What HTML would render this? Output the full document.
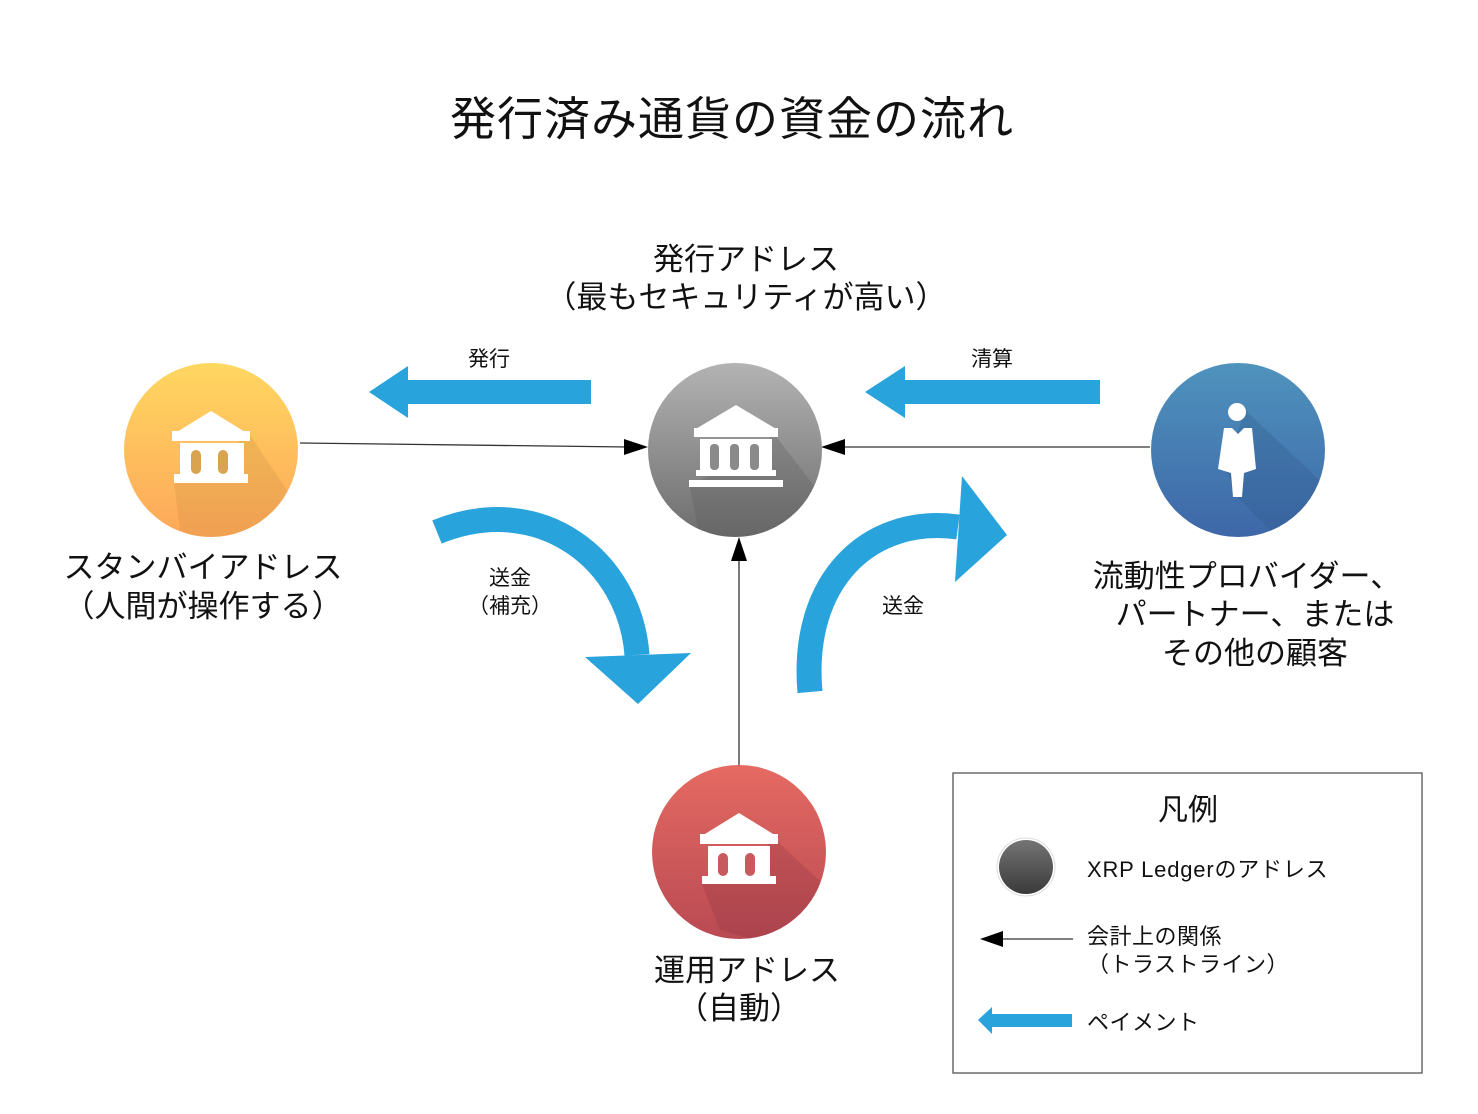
<!DOCTYPE html>
<html><head><meta charset="utf-8"><style>
body{margin:0;background:#fff}
text{font-family:"Liberation Sans","Noto Sans CJK JP",sans-serif;fill:#111}
</style></head><body>
<svg width="1478" height="1109" viewBox="0 0 1478 1109" xmlns="http://www.w3.org/2000/svg">
<defs>
<linearGradient id="gy" x1="0" y1="0" x2="0" y2="1"><stop offset="0" stop-color="#ffd760"/><stop offset="1" stop-color="#fea75a"/></linearGradient>
<linearGradient id="gg" x1="0" y1="0" x2="0" y2="1"><stop offset="0" stop-color="#b3b3b3"/><stop offset="1" stop-color="#6d6d6d"/></linearGradient>
<linearGradient id="gb" x1="0" y1="0" x2="0" y2="1"><stop offset="0" stop-color="#4f93bd"/><stop offset="1" stop-color="#3e67a8"/></linearGradient>
<linearGradient id="gr" x1="0" y1="0" x2="0" y2="1"><stop offset="0" stop-color="#e56a62"/><stop offset="1" stop-color="#b94a53"/></linearGradient>
<linearGradient id="gl" x1="0" y1="0" x2="0" y2="1"><stop offset="0" stop-color="#747474"/><stop offset="1" stop-color="#3a3a3a"/></linearGradient>
<clipPath id="cy"><circle cx="211" cy="450" r="87"/></clipPath>
<clipPath id="cg"><circle cx="735" cy="450" r="87"/></clipPath>
<clipPath id="cb"><circle cx="1238" cy="450" r="87"/></clipPath>
<clipPath id="cr"><circle cx="739" cy="852" r="87"/></clipPath>
</defs>

<text x="732" y="135" font-size="46" text-anchor="middle" letter-spacing="1">発行済み通貨の資金の流れ</text>

<line x1="300" y1="443" x2="628" y2="447" stroke="#333" stroke-width="1.3"/>
<polygon points="648,447 624,439 624,455" fill="#000"/>
<line x1="1150" y1="447" x2="842" y2="447" stroke="#333" stroke-width="1.3"/>
<polygon points="821,447 845,439 845,455" fill="#000"/>
<line x1="739" y1="765" x2="739" y2="558" stroke="#333" stroke-width="1.3"/>
<polygon points="739,537 731,561 747,561" fill="#000"/>

<rect x="408" y="380" width="183" height="24" fill="#29a3db"/>
<polygon points="369,392 408,366 408,418" fill="#29a3db"/>
<rect x="905" y="380" width="195" height="24" fill="#29a3db"/>
<polygon points="865,392 905,366 905,418" fill="#29a3db"/>
<path d="M437,532 C540,490 630,560 637,655" fill="none" stroke="#29a3db" stroke-width="25"/>
<polygon points="585,657 691,653 638,704" fill="#29a3db"/>
<path d="M810,692 C800,580 870,515 958,527" fill="none" stroke="#29a3db" stroke-width="25"/>
<polygon points="962,476 1007,535 955,582" fill="#29a3db"/>

<circle cx="211" cy="450" r="87" fill="url(#gy)"/>
<polygon clip-path="url(#cy)" points="250,435 320,540 250,560 180,530 174,482" fill="#c98a3a" opacity="0.25"/>
<g fill="#fff">
<polygon points="211,411 172,435 250,435"/>
<rect x="172" y="431" width="78" height="10"/>
<rect x="180" y="443" width="64" height="32"/>
<rect x="174" y="474" width="74" height="9"/>
</g>
<g fill="#d9a350"><rect x="191" y="450" width="10" height="24" rx="5"/><rect x="218" y="450" width="10" height="24" rx="5"/></g>

<circle cx="735" cy="450" r="87" fill="url(#gg)"/>
<polygon clip-path="url(#cg)" points="775,435 840,520 760,560 700,540 690,487" fill="#555" opacity="0.25"/>
<g fill="#fff">
<polygon points="736,405 694,430 778,430"/>
<rect x="694" y="428" width="84" height="9"/>
<rect x="700" y="439" width="72" height="33"/>
<rect x="689" y="480" width="94" height="7"/>
<rect x="696" y="470" width="80" height="6"/>
</g>
<g fill="#8a8a8a"><rect x="710" y="444" width="9" height="26" rx="4"/><rect x="730" y="444" width="9" height="26" rx="4"/><rect x="750" y="444" width="9" height="26" rx="4"/></g>

<circle cx="1238" cy="450" r="87" fill="url(#gb)"/>
<polygon clip-path="url(#cb)" points="1245,410 1330,490 1300,560 1240,500 1225,470" fill="#2f5a8a" opacity="0.3"/>
<g fill="#fff">
<circle cx="1237" cy="412" r="9"/>
<polygon points="1224,428 1232,428 1238,434 1244,428 1252,428 1256,469 1244,473 1242,497 1233,497 1231,473 1218,469"/>
</g>

<circle cx="739" cy="852" r="87" fill="url(#gr)"/>
<polygon clip-path="url(#cr)" points="776,840 840,900 790,950 720,930 702,884" fill="#7a2a35" opacity="0.2"/>
<g fill="#fff">
<polygon points="739,813 700,837 778,837"/>
<rect x="700" y="834" width="78" height="10"/>
<rect x="708" y="846" width="62" height="30"/>
<rect x="702" y="876" width="74" height="8"/>
</g>
<g fill="#c65a5d"><rect x="718" y="853" width="10" height="23" rx="5"/><rect x="745" y="853" width="10" height="23" rx="5"/></g>

<g font-size="31" text-anchor="middle">
<text x="746" y="270">発行アドレス</text>
<text x="746" y="308">（最もセキュリティが高い）</text>
<text x="203" y="578">スタンバイアドレス</text>
<text x="203" y="617">（人間が操作する）</text>
<text x="1247" y="587">流動性プロバイダー、</text>
<text x="1255" y="625">パートナー、または</text>
<text x="1255" y="664">その他の顧客</text>
<text x="747" y="981">運用アドレス</text>
<text x="739" y="1019">（自動）</text>
</g>
<g font-size="21" text-anchor="middle">
<text x="489" y="366">発行</text>
<text x="992" y="366">清算</text>
<text x="510" y="585">送金</text>
<text x="510" y="613">（補充）</text>
<text x="903" y="613">送金</text>
</g>

<rect x="953" y="773" width="469" height="300" fill="none" stroke="#555" stroke-width="1.3"/>
<text x="1188" y="820" font-size="30" text-anchor="middle">凡例</text>
<circle cx="1026" cy="867" r="29" fill="#fff" stroke="#ddd"/>
<circle cx="1026" cy="867" r="27" fill="url(#gl)"/>
<g font-size="22">
<text x="1087" y="877" letter-spacing="0.8">XRP Ledgerのアドレス</text>
<text x="1087" y="944" letter-spacing="0.5">会計上の関係</text>
<text x="1087" y="972" letter-spacing="0.5">（トラストライン）</text>
<text x="1087" y="1030" letter-spacing="0.5">ペイメント</text>
</g>
<line x1="1000" y1="939" x2="1073" y2="939" stroke="#333" stroke-width="1.2"/>
<polygon points="980,939 1003,931 1003,947" fill="#000"/>
<rect x="990" y="1014" width="82" height="13" fill="#29a3db"/>
<polygon points="978,1020 992,1007 992,1034" fill="#29a3db"/>
</svg>
</body></html>
